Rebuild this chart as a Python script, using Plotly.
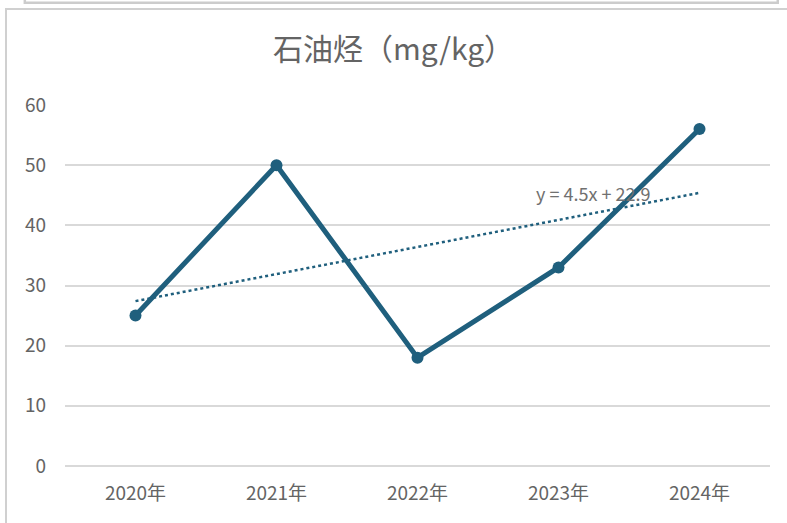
import plotly.graph_objects as go
import numpy as np

categories = ["2020年", "2021年", "2022年", "2023年", "2024年"]
values = [25, 50, 18, 33, 56]
y_ticks = [0, 10, 20, 30, 40, 50, 60]
title_text = "石油烃（mg/kg）"

# linear trend (least squares on x = 1..n)
xn = np.arange(1, len(values) + 1)
slope, intercept = np.polyfit(xn, values, 1)
trend = slope * xn + intercept
trend_label = f"y = {slope:.1f}x + {intercept:.1f}"

line_color = "#1F5F7D"
text_color = "#646464"
font_family = "Noto Sans CJK SC, Noto Sans, sans-serif"

fig = go.Figure()
fig.add_trace(go.Scatter(
    x=categories, y=trend, mode="lines",
    line=dict(color=line_color, width=2.5, dash="dot"),
    hoverinfo="skip", showlegend=False,
))
fig.add_trace(go.Scatter(
    x=categories, y=values, mode="lines+markers",
    line=dict(color=line_color, width=5),
    marker=dict(color=line_color, size=12),
    showlegend=False,
))

fig.add_annotation(
    x=categories[3], y=trend[3], xref="x", yref="y",
    text=trend_label, showarrow=False,
    xshift=34, yshift=27,
    font=dict(family=font_family, size=18, color="#707070"),
)

# outer frames (screenshot borders)
fig.add_shape(type="rect", xref="paper", yref="paper",
              x0=-0.057, x1=1.011, y0=1.283, y1=1.35,
              line=dict(color="#cccccc", width=2.5), fillcolor="rgba(0,0,0,0)", layer="below")
fig.add_shape(type="rect", xref="paper", yref="paper",
              x0=-0.0837, x1=1.06, y0=-0.3, y1=1.266,
              line=dict(color="#d0d0d0", width=2), fillcolor="rgba(0,0,0,0)", layer="below")

fig.update_layout(
    width=787, height=523,
    margin=dict(l=65, r=17, t=105, b=57),
    paper_bgcolor="white", plot_bgcolor="white",
    title=dict(text=title_text, x=0.5, xanchor="center", y=0.905, yanchor="middle",
               font=dict(family=font_family, size=30, color=text_color)),
    xaxis=dict(
        type="category", range=[-0.5, 4.5],
        showgrid=False, zeroline=False, showline=False, ticks="", ticklabelstandoff=14,
        tickfont=dict(family=font_family, size=19, color=text_color),
    ),
    yaxis=dict(
        range=[0, 60], tickvals=y_ticks, showgrid=True, gridcolor="#d9d9d9", gridwidth=1.5,
        zeroline=True, zerolinecolor="#d9d9d9", zerolinewidth=1.5,
        showline=False, ticks="", ticklabelstandoff=18,
        tickfont=dict(family=font_family, size=19, color=text_color),
    ),
)

fig.write_html("out.html", config={"displayModeBar": False},
               post_script="document.body.style.margin='0';document.body.style.padding='0';")
